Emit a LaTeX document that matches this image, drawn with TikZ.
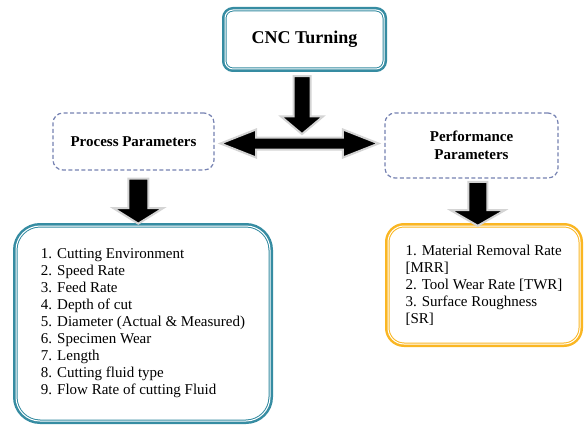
\documentclass[tikz,border=0pt]{standalone}
\usepackage{fontspec}
\setmainfont{Liberation Serif}
\usepackage{tikz}
\usetikzlibrary{shapes.arrows,calc}
\definecolor{tealline}{RGB}{54,140,162}
\definecolor{goldline}{RGB}{250,182,34}
\definecolor{dashblue}{RGB}{118,130,178}
\definecolor{arrowrim}{RGB}{212,212,212}
\tikzset{
  framebox/.style={draw=#1, line width=1pt, double=white, double distance=1pt, fill=white,
    preaction={draw=#1, line width=6pt}, align=center, inner sep=0pt},
  headbox/.style={framebox=tealline, rounded corners=8pt, font=\bfseries\fontsize{18}{20}\selectfont},
  listbox/.style={framebox=#1, align=left, font=\fontsize{15}{17}\selectfont},
  dashbox/.style={draw=dashblue, line width=1.2pt, dash pattern=on 4pt off 2.5pt, rounded corners=10pt,
    fill=white, align=center, inner sep=0pt, font=\bfseries\fontsize{15}{18.5}\selectfont},
  downblock/.style={single arrow, rotate=-90, fill=black, draw=arrowrim, line width=2pt,
    inner xsep=0pt, single arrow head indent=0pt},
  sideblock/.style={double arrow, fill=black, draw=arrowrim, line width=2pt,
    inner xsep=0pt, double arrow head indent=0pt}
}
\begin{document}
\begin{tikzpicture}[x=1pt, y=-1pt]
  \useasboundingbox (0,0) rectangle (585,425);
  % boxes
  \node[headbox, minimum width=159pt, minimum height=59pt] (cnc) at (304.5,39.5) {CNC Turning};
  \node[dashbox, minimum width=161pt, minimum height=57pt] (proc) at (133.5,141.5) {Process Parameters};
  \node[dashbox, minimum width=173pt, minimum height=65pt] (perf) at (471.5,145.5) {Performance\\Parameters};
  \node[listbox=tealline, rounded corners=24pt, minimum width=254pt, minimum height=195pt] (plist) at (143,323.5)
    {1. Cutting Environment\\2. Speed Rate\\3. Feed Rate\\4. Depth of cut\\5. Diameter (Actual \& Measured)\\
     6. Specimen Wear\\7. Length\\8. Cutting fluid type\\9. Flow Rate of cutting Fluid};
  \node[listbox=goldline, rounded corners=16pt, minimum width=192pt, minimum height=118pt] (rlist) at (484,285)
    {1. Material Removal Rate\\{}[MRR]\\2. Tool Wear Rate [TWR]\\3. Surface Roughness\\{}[SR]};
  % block arrows
  \node[sideblock, inner ysep=5pt, double arrow head extend=8pt, double arrow tip angle=43,
    minimum height=158pt] (link) at ($(proc.east)!0.5!(perf.west)$) {};
  \node[downblock, inner ysep=7.5pt, single arrow head extend=12.5pt, single arrow tip angle=100,
    minimum height=58pt] (feed) at ($(cnc.south)+(-2.5,32)$) {};
  \node[downblock, inner ysep=9pt, single arrow head extend=15pt, single arrow tip angle=116,
    minimum height=45pt] (pdown) at ($(proc.south)!0.5!(plist.north)$) {};
  \node[downblock, inner ysep=8.5pt, single arrow head extend=17.5pt, single arrow tip angle=120,
    minimum height=44pt] (rdown) at ($(perf.south)!0.5!(rlist.north)+(0,-1)$) {};
\end{tikzpicture}
\end{document}
